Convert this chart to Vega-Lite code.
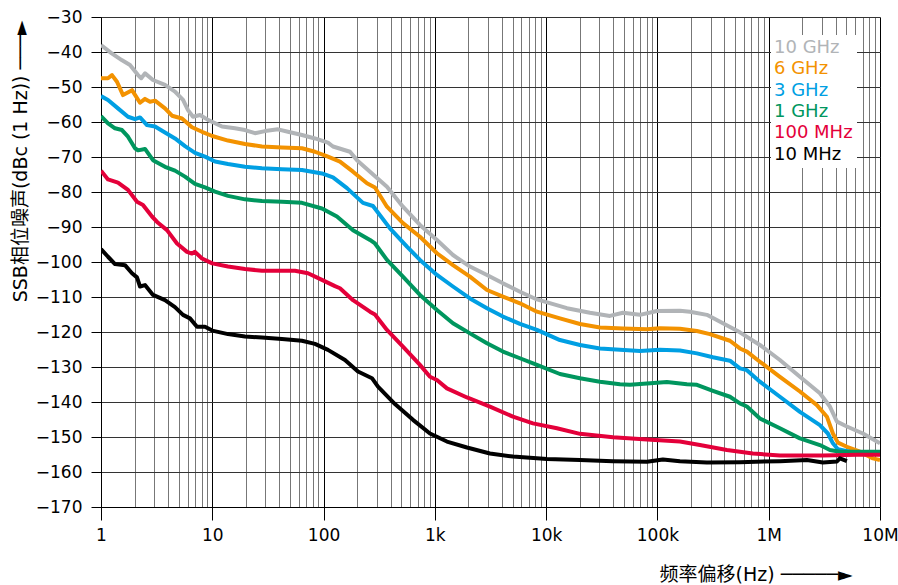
{
  "$schema": "https://vega.github.io/schema/vega-lite/v6.json",
  "autosize": {"type": "none"},
  "padding": {"left": 101, "top": 17, "right": 18, "bottom": 78},
  "width": 779,
  "height": 490,
  "background": "white",
  "config": {
    "font": "DejaVu Sans",
    "view": {"stroke": null},
    "axis": {"labelFont": "DejaVu Sans", "titleFont": "DejaVu Sans, Noto Sans CJK SC", "labelColor": "#000", "titleColor": "#000", "titleFontWeight": "normal", "labelFontSize": 17, "titleFontSize": 19, "domainColor": "#000", "gridOpacity": 1}
  },
  "datasets": {
    "curves": [
      {"s": "10 GHz", "f": 1, "db": -38.0}, {"s": "10 GHz", "f": 1.248, "db": -40.4}, {"s": "10 GHz", "f": 1.535, "db": -42.3}, {"s": "10 GHz", "f": 1.822, "db": -43.7}, {"s": "10 GHz", "f": 2.15, "db": -46.6}, {"s": "10 GHz", "f": 2.3, "db": -47.5}, {"s": "10 GHz", "f": 2.49, "db": -46.1}, {"s": "10 GHz", "f": 2.93, "db": -48.0}, {"s": "10 GHz", "f": 3.76, "db": -49.4}, {"s": "10 GHz", "f": 4.62, "db": -51.3}, {"s": "10 GHz", "f": 5.46, "db": -53.7}, {"s": "10 GHz", "f": 6.05, "db": -56.6}, {"s": "10 GHz", "f": 6.71, "db": -58.5}, {"s": "10 GHz", "f": 7.76, "db": -58.0}, {"s": "10 GHz", "f": 9.15, "db": -59.4}, {"s": "10 GHz", "f": 12.22, "db": -61.3}, {"s": "10 GHz", "f": 15.99, "db": -61.8}, {"s": "10 GHz", "f": 19.67, "db": -62.3}, {"s": "10 GHz", "f": 24.19, "db": -63.2}, {"s": "10 GHz", "f": 29.75, "db": -62.6}, {"s": "10 GHz", "f": 38.93, "db": -62.1}, {"s": "10 GHz", "f": 47.87, "db": -62.8}, {"s": "10 GHz", "f": 63.96, "db": -63.7}, {"s": "10 GHz", "f": 83.69, "db": -64.7}, {"s": "10 GHz", "f": 109.5, "db": -65.9}, {"s": "10 GHz", "f": 121.5, "db": -67.0}, {"s": "10 GHz", "f": 172.7, "db": -68.5}, {"s": "10 GHz", "f": 199.6, "db": -70.9}, {"s": "10 GHz", "f": 261.2, "db": -74.2}, {"s": "10 GHz", "f": 371.2, "db": -78.5}, {"s": "10 GHz", "f": 516.8, "db": -84.2}, {"s": "10 GHz", "f": 734.8, "db": -89.4}, {"s": "10 GHz", "f": 1044, "db": -93.7}, {"s": "10 GHz", "f": 1454, "db": -98.0}, {"s": "10 GHz", "f": 2067, "db": -101.3}, {"s": "10 GHz", "f": 2939, "db": -103.7}, {"s": "10 GHz", "f": 4091, "db": -106.1}, {"s": "10 GHz", "f": 5817, "db": -108.5}, {"s": "10 GHz", "f": 8265, "db": -110.7}, {"s": "10 GHz", "f": 15380, "db": -113.2}, {"s": "10 GHz", "f": 24750, "db": -114.5}, {"s": "10 GHz", "f": 37430, "db": -115.4}, {"s": "10 GHz", "f": 48980, "db": -114.5}, {"s": "10 GHz", "f": 69640, "db": -115.1}, {"s": "10 GHz", "f": 98970, "db": -114.0}, {"s": "10 GHz", "f": 159300, "db": -113.9}, {"s": "10 GHz", "f": 195900, "db": -114.2}, {"s": "10 GHz", "f": 278400, "db": -115.1}, {"s": "10 GHz", "f": 387700, "db": -117.5}, {"s": "10 GHz", "f": 551000, "db": -120.1}, {"s": "10 GHz", "f": 833000, "db": -123.7}, {"s": "10 GHz", "f": 1261000, "db": -128.0}, {"s": "10 GHz", "f": 1907000, "db": -132.8}, {"s": "10 GHz", "f": 2884000, "db": -137.5}, {"s": "10 GHz", "f": 3547000, "db": -141.3}, {"s": "10 GHz", "f": 4101000, "db": -145.6}, {"s": "10 GHz", "f": 5041000, "db": -147.0}, {"s": "10 GHz", "f": 7021000, "db": -149.0}, {"s": "10 GHz", "f": 10000000, "db": -151.8},
      {"s": "6 GHz", "f": 1, "db": -47.5}, {"s": "6 GHz", "f": 1.156, "db": -47.5}, {"s": "6 GHz", "f": 1.255, "db": -46.6}, {"s": "6 GHz", "f": 1.392, "db": -48.5}, {"s": "6 GHz", "f": 1.577, "db": -52.3}, {"s": "6 GHz", "f": 1.899, "db": -50.9}, {"s": "6 GHz", "f": 2.241, "db": -54.5}, {"s": "6 GHz", "f": 2.486, "db": -53.4}, {"s": "6 GHz", "f": 2.756, "db": -54.2}, {"s": "6 GHz", "f": 3.057, "db": -53.9}, {"s": "6 GHz", "f": 3.758, "db": -56.1}, {"s": "6 GHz", "f": 4.345, "db": -58.2}, {"s": "6 GHz", "f": 5.343, "db": -59.0}, {"s": "6 GHz", "f": 6.571, "db": -61.5}, {"s": "6 GHz", "f": 8.084, "db": -62.8}, {"s": "6 GHz", "f": 10, "db": -64.0}, {"s": "6 GHz", "f": 13.84, "db": -65.3}, {"s": "6 GHz", "f": 19.67, "db": -66.3}, {"s": "6 GHz", "f": 27.96, "db": -67.0}, {"s": "6 GHz", "f": 42.29, "db": -67.3}, {"s": "6 GHz", "f": 63.96, "db": -67.5}, {"s": "6 GHz", "f": 83.69, "db": -68.5}, {"s": "6 GHz", "f": 109.5, "db": -69.9}, {"s": "6 GHz", "f": 140.4, "db": -71.3}, {"s": "6 GHz", "f": 183.8, "db": -74.2}, {"s": "6 GHz", "f": 245.5, "db": -77.5}, {"s": "6 GHz", "f": 289.6, "db": -78.7}, {"s": "6 GHz", "f": 371.2, "db": -84.2}, {"s": "6 GHz", "f": 516.8, "db": -88.9}, {"s": "6 GHz", "f": 734.8, "db": -92.8}, {"s": "6 GHz", "f": 1044, "db": -97.5}, {"s": "6 GHz", "f": 1454, "db": -100.9}, {"s": "6 GHz", "f": 2067, "db": -104.2}, {"s": "6 GHz", "f": 2939, "db": -108.0}, {"s": "6 GHz", "f": 4091, "db": -109.9}, {"s": "6 GHz", "f": 5817, "db": -111.8}, {"s": "6 GHz", "f": 8265, "db": -114.2}, {"s": "6 GHz", "f": 13300, "db": -116.1}, {"s": "6 GHz", "f": 20130, "db": -117.7}, {"s": "6 GHz", "f": 30430, "db": -118.7}, {"s": "6 GHz", "f": 48980, "db": -119.0}, {"s": "6 GHz", "f": 80500, "db": -119.2}, {"s": "6 GHz", "f": 105300, "db": -118.9}, {"s": "6 GHz", "f": 159300, "db": -119.1}, {"s": "6 GHz", "f": 226400, "db": -119.7}, {"s": "6 GHz", "f": 296200, "db": -120.6}, {"s": "6 GHz", "f": 448000, "db": -122.5}, {"s": "6 GHz", "f": 551000, "db": -124.7}, {"s": "6 GHz", "f": 637000, "db": -125.6}, {"s": "6 GHz", "f": 833000, "db": -128.5}, {"s": "6 GHz", "f": 1261000, "db": -132.8}, {"s": "6 GHz", "f": 1907000, "db": -137.0}, {"s": "6 GHz", "f": 2710000, "db": -140.9}, {"s": "6 GHz", "f": 3334000, "db": -144.2}, {"s": "6 GHz", "f": 3774000, "db": -149.0}, {"s": "6 GHz", "f": 4186000, "db": -151.6}, {"s": "6 GHz", "f": 5041000, "db": -152.8}, {"s": "6 GHz", "f": 6597000, "db": -154.2}, {"s": "6 GHz", "f": 8636000, "db": -156.1}, {"s": "6 GHz", "f": 10000000, "db": -156.6},
      {"s": "3 GHz", "f": 1, "db": -52.6}, {"s": "3 GHz", "f": 1.156, "db": -53.7}, {"s": "3 GHz", "f": 1.421, "db": -56.1}, {"s": "3 GHz", "f": 1.748, "db": -58.5}, {"s": "3 GHz", "f": 2.021, "db": -59.2}, {"s": "3 GHz", "f": 2.241, "db": -58.7}, {"s": "3 GHz", "f": 2.591, "db": -60.9}, {"s": "3 GHz", "f": 3.057, "db": -61.3}, {"s": "3 GHz", "f": 3.758, "db": -63.0}, {"s": "3 GHz", "f": 4.623, "db": -64.7}, {"s": "3 GHz", "f": 5.685, "db": -66.9}, {"s": "3 GHz", "f": 6.992, "db": -68.8}, {"s": "3 GHz", "f": 8.598, "db": -69.9}, {"s": "3 GHz", "f": 10.58, "db": -71.3}, {"s": "3 GHz", "f": 13.84, "db": -72.0}, {"s": "3 GHz", "f": 19.67, "db": -72.8}, {"s": "3 GHz", "f": 27.96, "db": -73.2}, {"s": "3 GHz", "f": 42.29, "db": -73.5}, {"s": "3 GHz", "f": 63.96, "db": -73.7}, {"s": "3 GHz", "f": 96.7, "db": -74.7}, {"s": "3 GHz", "f": 121.5, "db": -75.8}, {"s": "3 GHz", "f": 162.3, "db": -78.9}, {"s": "3 GHz", "f": 225.9, "db": -83.1}, {"s": "3 GHz", "f": 277.9, "db": -84.0}, {"s": "3 GHz", "f": 395, "db": -90.4}, {"s": "3 GHz", "f": 561.6, "db": -95.6}, {"s": "3 GHz", "f": 734.8, "db": -99.4}, {"s": "3 GHz", "f": 1044, "db": -103.7}, {"s": "3 GHz", "f": 1454, "db": -107.0}, {"s": "3 GHz", "f": 2067, "db": -110.4}, {"s": "3 GHz", "f": 2939, "db": -113.2}, {"s": "3 GHz", "f": 4091, "db": -115.6}, {"s": "3 GHz", "f": 5817, "db": -117.7}, {"s": "3 GHz", "f": 8265, "db": -119.4}, {"s": "3 GHz", "f": 13300, "db": -122.3}, {"s": "3 GHz", "f": 20130, "db": -123.7}, {"s": "3 GHz", "f": 30430, "db": -124.7}, {"s": "3 GHz", "f": 46040, "db": -125.1}, {"s": "3 GHz", "f": 69640, "db": -125.4}, {"s": "3 GHz", "f": 105300, "db": -125.1}, {"s": "3 GHz", "f": 159300, "db": -125.3}, {"s": "3 GHz", "f": 226400, "db": -126.1}, {"s": "3 GHz", "f": 315200, "db": -127.2}, {"s": "3 GHz", "f": 448000, "db": -128.2}, {"s": "3 GHz", "f": 551000, "db": -130.4}, {"s": "3 GHz", "f": 637000, "db": -130.9}, {"s": "3 GHz", "f": 833000, "db": -134.2}, {"s": "3 GHz", "f": 1261000, "db": -138.5}, {"s": "3 GHz", "f": 1907000, "db": -142.8}, {"s": "3 GHz", "f": 2884000, "db": -146.6}, {"s": "3 GHz", "f": 3403000, "db": -149.0}, {"s": "3 GHz", "f": 3774000, "db": -151.8}, {"s": "3 GHz", "f": 4186000, "db": -153.5}, {"s": "3 GHz", "f": 5366000, "db": -154.2}, {"s": "3 GHz", "f": 10000000, "db": -154.5},
      {"s": "1 GHz", "f": 1, "db": -58.3}, {"s": "1 GHz", "f": 1.156, "db": -60.4}, {"s": "1 GHz", "f": 1.336, "db": -61.8}, {"s": "1 GHz", "f": 1.544, "db": -62.3}, {"s": "1 GHz", "f": 1.748, "db": -64.2}, {"s": "1 GHz", "f": 2.021, "db": -67.5}, {"s": "1 GHz", "f": 2.15, "db": -68.1}, {"s": "1 GHz", "f": 2.486, "db": -67.7}, {"s": "1 GHz", "f": 2.932, "db": -70.9}, {"s": "1 GHz", "f": 3.758, "db": -72.8}, {"s": "1 GHz", "f": 4.623, "db": -73.9}, {"s": "1 GHz", "f": 5.685, "db": -75.6}, {"s": "1 GHz", "f": 6.992, "db": -77.7}, {"s": "1 GHz", "f": 8.598, "db": -78.7}, {"s": "1 GHz", "f": 10.58, "db": -79.9}, {"s": "1 GHz", "f": 13.84, "db": -81.1}, {"s": "1 GHz", "f": 19.67, "db": -82.1}, {"s": "1 GHz", "f": 27.96, "db": -82.6}, {"s": "1 GHz", "f": 42.29, "db": -82.8}, {"s": "1 GHz", "f": 63.96, "db": -83.1}, {"s": "1 GHz", "f": 96.7, "db": -84.7}, {"s": "1 GHz", "f": 131.9, "db": -87.0}, {"s": "1 GHz", "f": 183.8, "db": -90.9}, {"s": "1 GHz", "f": 261.2, "db": -93.7}, {"s": "1 GHz", "f": 289.6, "db": -94.7}, {"s": "1 GHz", "f": 371.2, "db": -99.4}, {"s": "1 GHz", "f": 516.8, "db": -104.2}, {"s": "1 GHz", "f": 734.8, "db": -109.4}, {"s": "1 GHz", "f": 1044, "db": -113.7}, {"s": "1 GHz", "f": 1454, "db": -117.5}, {"s": "1 GHz", "f": 2067, "db": -120.4}, {"s": "1 GHz", "f": 2939, "db": -123.2}, {"s": "1 GHz", "f": 4091, "db": -125.6}, {"s": "1 GHz", "f": 5817, "db": -127.5}, {"s": "1 GHz", "f": 8265, "db": -129.4}, {"s": "1 GHz", "f": 13300, "db": -132.0}, {"s": "1 GHz", "f": 20130, "db": -133.2}, {"s": "1 GHz", "f": 30430, "db": -134.2}, {"s": "1 GHz", "f": 46040, "db": -134.9}, {"s": "1 GHz", "f": 56610, "db": -135.1}, {"s": "1 GHz", "f": 80500, "db": -134.7}, {"s": "1 GHz", "f": 121700, "db": -134.3}, {"s": "1 GHz", "f": 184100, "db": -134.9}, {"s": "1 GHz", "f": 226400, "db": -135.1}, {"s": "1 GHz", "f": 315200, "db": -136.8}, {"s": "1 GHz", "f": 448000, "db": -138.5}, {"s": "1 GHz", "f": 551000, "db": -140.4}, {"s": "1 GHz", "f": 637000, "db": -141.3}, {"s": "1 GHz", "f": 833000, "db": -144.7}, {"s": "1 GHz", "f": 1261000, "db": -147.5}, {"s": "1 GHz", "f": 1907000, "db": -150.4}, {"s": "1 GHz", "f": 2884000, "db": -152.3}, {"s": "1 GHz", "f": 3547000, "db": -153.7}, {"s": "1 GHz", "f": 4362000, "db": -154.2}, {"s": "1 GHz", "f": 10000000, "db": -154.2},
      {"s": "100 MHz", "f": 1, "db": -73.9}, {"s": "100 MHz", "f": 1.156, "db": -76.4}, {"s": "100 MHz", "f": 1.421, "db": -77.3}, {"s": "100 MHz", "f": 1.748, "db": -79.4}, {"s": "100 MHz", "f": 2.106, "db": -82.8}, {"s": "100 MHz", "f": 2.384, "db": -83.7}, {"s": "100 MHz", "f": 2.872, "db": -87.0}, {"s": "100 MHz", "f": 3.252, "db": -88.8}, {"s": "100 MHz", "f": 3.917, "db": -90.9}, {"s": "100 MHz", "f": 4.818, "db": -94.7}, {"s": "100 MHz", "f": 5.926, "db": -97.1}, {"s": "100 MHz", "f": 6.571, "db": -97.6}, {"s": "100 MHz", "f": 6.992, "db": -97.1}, {"s": "100 MHz", "f": 8.084, "db": -99.0}, {"s": "100 MHz", "f": 10, "db": -100.4}, {"s": "100 MHz", "f": 13.84, "db": -101.3}, {"s": "100 MHz", "f": 19.67, "db": -102.0}, {"s": "100 MHz", "f": 27.96, "db": -102.5}, {"s": "100 MHz", "f": 42.29, "db": -102.5}, {"s": "100 MHz", "f": 55.34, "db": -102.5}, {"s": "100 MHz", "f": 72.42, "db": -103.2}, {"s": "100 MHz", "f": 96.7, "db": -105.1}, {"s": "100 MHz", "f": 126.6, "db": -106.9}, {"s": "100 MHz", "f": 140.4, "db": -107.5}, {"s": "100 MHz", "f": 183.8, "db": -110.9}, {"s": "100 MHz", "f": 261.2, "db": -114.2}, {"s": "100 MHz", "f": 289.6, "db": -115.0}, {"s": "100 MHz", "f": 371.2, "db": -119.4}, {"s": "100 MHz", "f": 516.8, "db": -124.2}, {"s": "100 MHz", "f": 734.8, "db": -129.4}, {"s": "100 MHz", "f": 903.6, "db": -132.8}, {"s": "100 MHz", "f": 1044, "db": -133.7}, {"s": "100 MHz", "f": 1284, "db": -136.1}, {"s": "100 MHz", "f": 1943, "db": -138.7}, {"s": "100 MHz", "f": 3126, "db": -141.3}, {"s": "100 MHz", "f": 5031, "db": -144.2}, {"s": "100 MHz", "f": 7608, "db": -146.1}, {"s": "100 MHz", "f": 12500, "db": -147.5}, {"s": "100 MHz", "f": 20130, "db": -149.1}, {"s": "100 MHz", "f": 39830, "db": -150.1}, {"s": "100 MHz", "f": 80500, "db": -150.7}, {"s": "100 MHz", "f": 159300, "db": -151.3}, {"s": "100 MHz", "f": 240900, "db": -152.3}, {"s": "100 MHz", "f": 421000, "db": -153.7}, {"s": "100 MHz", "f": 551000, "db": -154.2}, {"s": "100 MHz", "f": 721000, "db": -154.7}, {"s": "100 MHz", "f": 1261000, "db": -155.3}, {"s": "100 MHz", "f": 3069000, "db": -155.3}, {"s": "100 MHz", "f": 6200000, "db": -155.1}, {"s": "100 MHz", "f": 10000000, "db": -155.1},
      {"s": "10 MHz", "f": 1, "db": -96.3}, {"s": "10 MHz", "f": 1.156, "db": -98.5}, {"s": "10 MHz", "f": 1.336, "db": -100.6}, {"s": "10 MHz", "f": 1.643, "db": -100.9}, {"s": "10 MHz", "f": 1.899, "db": -103.2}, {"s": "10 MHz", "f": 2.106, "db": -104.4}, {"s": "10 MHz", "f": 2.241, "db": -107.0}, {"s": "10 MHz", "f": 2.486, "db": -106.6}, {"s": "10 MHz", "f": 2.932, "db": -109.4}, {"s": "10 MHz", "f": 3.758, "db": -110.9}, {"s": "10 MHz", "f": 4.623, "db": -112.9}, {"s": "10 MHz", "f": 5.455, "db": -115.1}, {"s": "10 MHz", "f": 6.304, "db": -116.1}, {"s": "10 MHz", "f": 7.288, "db": -118.5}, {"s": "10 MHz", "f": 8.598, "db": -118.5}, {"s": "10 MHz", "f": 10, "db": -119.6}, {"s": "10 MHz", "f": 13.84, "db": -120.6}, {"s": "10 MHz", "f": 19.67, "db": -121.3}, {"s": "10 MHz", "f": 27.96, "db": -121.6}, {"s": "10 MHz", "f": 42.29, "db": -122.0}, {"s": "10 MHz", "f": 63.96, "db": -122.5}, {"s": "10 MHz", "f": 83.69, "db": -123.4}, {"s": "10 MHz", "f": 109.5, "db": -125.1}, {"s": "10 MHz", "f": 155.7, "db": -128.0}, {"s": "10 MHz", "f": 203.8, "db": -131.3}, {"s": "10 MHz", "f": 272.2, "db": -133.2}, {"s": "10 MHz", "f": 308.2, "db": -135.6}, {"s": "10 MHz", "f": 438, "db": -140.6}, {"s": "10 MHz", "f": 635.7, "db": -145.1}, {"s": "10 MHz", "f": 903.6, "db": -149.0}, {"s": "10 MHz", "f": 1284, "db": -151.3}, {"s": "10 MHz", "f": 1943, "db": -153.0}, {"s": "10 MHz", "f": 3126, "db": -154.7}, {"s": "10 MHz", "f": 5031, "db": -155.6}, {"s": "10 MHz", "f": 10170, "db": -156.3}, {"s": "10 MHz", "f": 20130, "db": -156.6}, {"s": "10 MHz", "f": 39830, "db": -156.9}, {"s": "10 MHz", "f": 80500, "db": -157.1}, {"s": "10 MHz", "f": 112000, "db": -156.4}, {"s": "10 MHz", "f": 159300, "db": -156.9}, {"s": "10 MHz", "f": 278400, "db": -157.3}, {"s": "10 MHz", "f": 551000, "db": -157.2}, {"s": "10 MHz", "f": 1261000, "db": -156.9}, {"s": "10 MHz", "f": 2204000, "db": -156.6}, {"s": "10 MHz", "f": 3069000, "db": -157.3}, {"s": "10 MHz", "f": 4101000, "db": -157.0}, {"s": "10 MHz", "f": 4362000, "db": -156.1}, {"s": "10 MHz", "f": 5041000, "db": -156.9}
    ]
  },
  "data": {"name": "curves"},
  "mark": {"type": "line", "strokeWidth": 4, "strokeJoin": "round", "clip": true},
  "encoding": {
    "x": {
      "field": "f", "type": "quantitative",
      "scale": {"type": "log", "domain": [1, 10000000], "nice": false},
      "axis": {
        "title": "频率偏移(Hz)  ─────►",
        "titleAnchor": "end", "titleAlign": "right", "titleX": 751, "titleY": 67, "titleBaseline": "middle",
        "values": [1,2,3,4,5,6,7,8,9,10,20,30,40,50,60,70,80,90,100,200,300,400,500,600,700,800,900,1000,2000,3000,4000,5000,6000,7000,8000,9000,10000,20000,30000,40000,50000,60000,70000,80000,90000,100000,200000,300000,400000,500000,600000,700000,800000,900000,1000000,2000000,3000000,4000000,5000000,6000000,7000000,8000000,9000000,10000000],
        "labelExpr": "datum.value == 1 ? '1' : datum.value == 10 ? '10' : datum.value == 100 ? '100' : datum.value == 1000 ? '1k' : datum.value == 10000 ? '10k' : datum.value == 100000 ? '100k' : datum.value == 1000000 ? '1M' : datum.value == 10000000 ? '10M' : ''",
        "labelOverlap": false, "labelFlush": false, "labelBound": false, "labelPadding": 7,
        "grid": true,
        "gridColor": {"condition": {"test": "indexof([1,10,100,1000,10000,100000,1000000,10000000], datum.value) >= 0", "value": "#000000"}, "value": "#777777"},
        "tickColor": {"condition": {"test": "indexof([1,10,100,1000,10000,100000,1000000,10000000], datum.value) >= 0", "value": "#000000"}, "value": "transparent"},
        "tickSize": 13
      }
    },
    "y": {
      "field": "db", "type": "quantitative",
      "scale": {"domain": [-170, -30], "nice": false, "zero": false},
      "axis": {
        "title": "SSB相位噪声(dBc (1 Hz)) ───►",
        "titleAnchor": "end", "titleAngle": 270, "titleAlign": "right", "titleX": -81, "titleY": 3, "titleBaseline": "middle",
        "values": [-170,-160,-150,-140,-130,-120,-110,-100,-90,-80,-70,-60,-50,-40,-30],
        "grid": true, "gridColor": "#333333", "tickColor": "#000", "tickSize": 10, "labelPadding": 9
      }
    },
    "color": {
      "field": "s", "type": "nominal",
      "scale": {"domain": ["10 GHz", "6 GHz", "3 GHz", "1 GHz", "100 MHz", "10 MHz"], "range": ["#b1b4b7", "#f39200", "#009fe3", "#00965e", "#e4003a", "#000000"]},
      "legend": {
        "orient": "none", "legendX": 670, "legendY": 18, "title": null,
        "symbolType": "circle", "symbolSize": 0, "symbolOpacity": 0, "symbolStrokeWidth": 0, "labelOffset": -19,
        "fillColor": "white", "padding": 4, "rowPadding": 3.3,
        "labelFont": "DejaVu Sans", "labelFontSize": 18,
        "labelColor": {"expr": "datum.value == '10 GHz' ? '#b1b4b7' : datum.value == '6 GHz' ? '#f39200' : datum.value == '3 GHz' ? '#009fe3' : datum.value == '1 GHz' ? '#00965e' : datum.value == '100 MHz' ? '#e4003a' : '#000000'"}
      }
    }
  }
}
